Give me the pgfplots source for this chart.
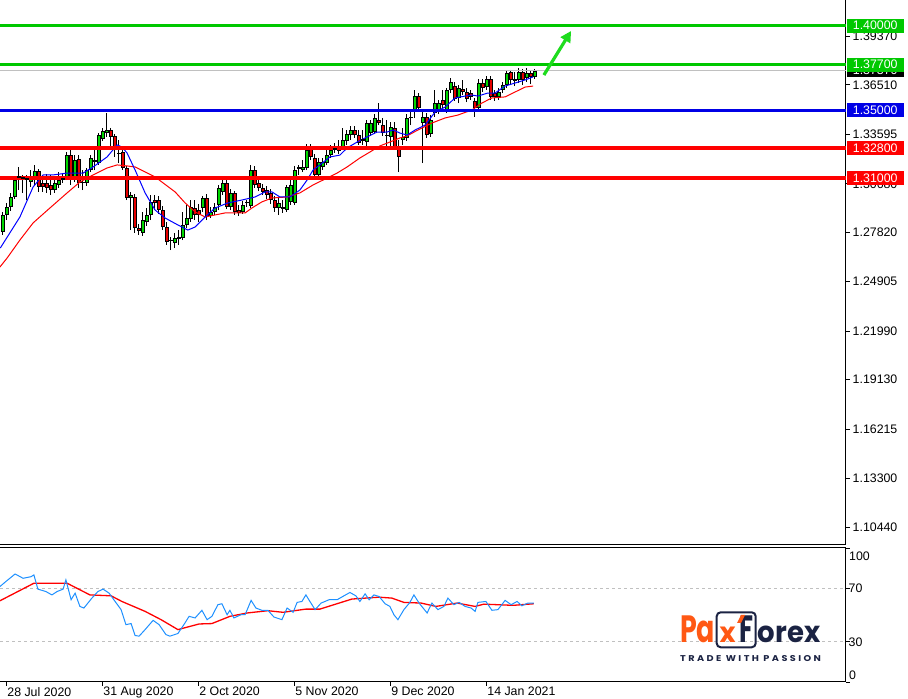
\documentclass[border=0pt]{standalone}
\usepackage{fontspec}
\setmainfont{Liberation Sans}
\newfontfamily\logofont{Poppins}
\newfontfamily\logosmall{Poppins}[LetterSpace=25]
\usepackage{graphicx}
\usepackage{pgfplots}
\pgfplotsset{compat=1.18}
\usepackage{pgfplotstable}
\usetikzlibrary{arrows.meta}

\definecolor{hgreen}{RGB}{0,200,0}
\definecolor{bull}{RGB}{0,215,0}
\definecolor{bear}{RGB}{230,0,0}
\definecolor{hred}{RGB}{255,0,0}
\definecolor{hblue}{RGB}{0,0,230}
\definecolor{mablue}{RGB}{0,0,255}
\definecolor{mared}{RGB}{255,0,0}
\definecolor{rsiblue}{RGB}{30,144,255}
\definecolor{lgray}{RGB}{192,192,192}
\definecolor{arrowgreen}{RGB}{30,220,30}
\definecolor{pxorange}{RGB}{255,88,20}
\definecolor{pxnavy}{RGB}{27,35,67}

\pgfplotstableread{
i o h l c
0 1.2784 1.2902 1.2766 1.2884
1 1.2884 1.2955 1.2854 1.2931
2 1.2931 1.3014 1.2908 1.2990
3 1.2990 1.3114 1.2978 1.3090
7 1.3078 1.3149 1.3049 1.3108
8 1.3108 1.3179 1.3061 1.3143
13 1.3031 1.3102 1.3014 1.3073
14 1.3061 1.3137 1.3043 1.3090
16 1.3102 1.3255 1.3090 1.3237
18 1.3108 1.3237 1.3078 1.3208
21 1.3073 1.3161 1.3055 1.3149
22 1.3149 1.3237 1.3137 1.3220
24 1.3190 1.3367 1.3179 1.3355
25 1.3332 1.3397 1.3320 1.3379
26 1.3367 1.3485 1.3344 1.3385
32 1.2984 1.3020 1.2795 1.3002
35 1.2778 1.2902 1.2760 1.2854
36 1.2843 1.2925 1.2819 1.2884
37 1.2884 1.3002 1.2854 1.2961
43 1.2719 1.2778 1.2689 1.2748
45 1.2748 1.2902 1.2736 1.2825
46 1.2825 1.2943 1.2807 1.2866
47 1.2860 1.2972 1.2843 1.2931
50 1.2925 1.2996 1.2902 1.2984
52 1.2878 1.2931 1.2866 1.2902
53 1.2902 1.2955 1.2884 1.2931
54 1.2943 1.3061 1.2913 1.3043
55 1.3020 1.3090 1.3002 1.3073
57 1.2931 1.3037 1.2913 1.3014
60 1.2902 1.2966 1.2890 1.2943
62 1.2937 1.3179 1.2925 1.3149
69 1.2925 1.2984 1.2884 1.2955
71 1.2913 1.3061 1.2902 1.3049
72 1.2961 1.3090 1.2943 1.3061
73 1.2955 1.3173 1.2943 1.3149
75 1.3149 1.3208 1.3137 1.3167
76 1.3161 1.3302 1.3149 1.3267
79 1.3120 1.3220 1.3108 1.3196
80 1.3167 1.3220 1.3149 1.3196
81 1.3190 1.3267 1.3179 1.3237
82 1.3237 1.3297 1.3220 1.3267
84 1.3261 1.3326 1.3243 1.3291
85 1.3285 1.3397 1.3267 1.3326
86 1.3320 1.3385 1.3297 1.3361
87 1.3355 1.3409 1.3326 1.3385
91 1.3314 1.3444 1.3291 1.3426
92 1.3367 1.3444 1.3350 1.3426
93 1.3373 1.3479 1.3367 1.3456
97 1.3344 1.3432 1.3267 1.3403
100 1.3326 1.3397 1.3297 1.3344
101 1.3338 1.3479 1.3320 1.3456
103 1.3503 1.3621 1.3456 1.3585
105 1.3426 1.3503 1.3190 1.3462
107 1.3361 1.3473 1.3344 1.3444
108 1.3485 1.3621 1.3462 1.3544
109 1.3503 1.3562 1.3479 1.3544
111 1.3503 1.3633 1.3485 1.3621
112 1.3621 1.3692 1.3603 1.3668
114 1.3574 1.3650 1.3544 1.3633
119 1.3515 1.3686 1.3497 1.3662
121 1.3638 1.3703 1.3621 1.3686
124 1.3580 1.3633 1.3562 1.3609
125 1.3621 1.3668 1.3603 1.3650
126 1.3650 1.3739 1.3633 1.3721
129 1.3680 1.3751 1.3662 1.3727
131 1.3692 1.3751 1.3668 1.3721
133 1.3698 1.3745 1.3686 1.3733
}\bulltab

\pgfplotstableread{
i o h l c
9 1.3143 1.3149 1.3020 1.3049
10 1.3073 1.3120 1.3020 1.3049
11 1.3073 1.3126 1.3014 1.3043
12 1.3061 1.3120 1.3002 1.3031
17 1.3237 1.3267 1.3061 1.3102
19 1.3214 1.3237 1.3043 1.3073
27 1.3385 1.3397 1.3279 1.3344
28 1.3350 1.3361 1.3226 1.3285
30 1.3255 1.3267 1.3149 1.3161
31 1.3161 1.3173 1.2972 1.2984
33 1.2990 1.3008 1.2778 1.2807
34 1.2807 1.2831 1.2766 1.2790
38 1.2972 1.3002 1.2913 1.2955
39 1.2972 1.2996 1.2890 1.2913
40 1.2913 1.2937 1.2795 1.2813
41 1.2813 1.2843 1.2707 1.2725
48 1.2925 1.2972 1.2854 1.2884
49 1.2913 1.2949 1.2843 1.2884
51 1.2984 1.3008 1.2854 1.2872
56 1.3073 1.3090 1.2919 1.2931
58 1.3014 1.3025 1.2884 1.2902
59 1.2913 1.2943 1.2878 1.2896
63 1.3149 1.3173 1.3043 1.3061
64 1.3073 1.3108 1.3025 1.3043
65 1.3043 1.3067 1.3002 1.3020
66 1.3031 1.3055 1.2978 1.3002
67 1.3014 1.3037 1.2949 1.2972
68 1.2972 1.2996 1.2902 1.2925
77 1.3279 1.3302 1.3208 1.3226
78 1.3220 1.3243 1.3102 1.3120
88 1.3385 1.3409 1.3338 1.3355
89 1.3355 1.3385 1.3297 1.3308
94 1.3444 1.3544 1.3414 1.3426
95 1.3414 1.3456 1.3350 1.3367
98 1.3397 1.3432 1.3267 1.3285
99 1.3285 1.3326 1.3137 1.3226
104 1.3585 1.3603 1.3491 1.3515
106 1.3462 1.3485 1.3338 1.3355
110 1.3562 1.3621 1.3515 1.3532
113 1.3644 1.3668 1.3556 1.3568
115 1.3627 1.3680 1.3591 1.3609
116 1.3609 1.3633 1.3550 1.3568
117 1.3603 1.3621 1.3562 1.3580
118 1.3556 1.3574 1.3462 1.3515
120 1.3662 1.3686 1.3609 1.3633
122 1.3686 1.3703 1.3562 1.3580
123 1.3603 1.3621 1.3556 1.3580
127 1.3727 1.3739 1.3656 1.3680
130 1.3727 1.3745 1.3650 1.3680
132 1.3721 1.3739 1.3656 1.3698
}\beartab

\pgfplotstableread{
i o h l c
4 1.3108 1.3167 1.3031 1.3108
5 1.3102 1.3120 1.3014 1.3102
6 1.3096 1.3120 1.2972 1.3096
15 1.3096 1.3131 1.3073 1.3096
20 1.3073 1.3149 1.3031 1.3073
23 1.3202 1.3267 1.3149 1.3202
29 1.3249 1.3326 1.3190 1.3249
42 1.2731 1.2754 1.2677 1.2731
44 1.2748 1.2795 1.2707 1.2748
61 1.2955 1.2972 1.2931 1.2955
70 1.2925 1.2972 1.2896 1.2925
74 1.3161 1.3179 1.3120 1.3161
83 1.3273 1.3308 1.3249 1.3273
90 1.3326 1.3385 1.3297 1.3326
96 1.3355 1.3444 1.3279 1.3355
102 1.3456 1.3503 1.3414 1.3456
128 1.3680 1.3727 1.3644 1.3680
}\dojitab

\pgfplotstableread{
x y
-0.6 1.2689
4.3 1.2872
7.6 1.3049
10.1 1.3120
12.6 1.3120
16.1 1.3131
20.1 1.3131
22.6 1.3167
26.1 1.3226
28.6 1.3297
29.8 1.3285
31.1 1.3249
33.1 1.3149
35.6 1.3014
38.1 1.2913
40.6 1.2866
43.8 1.2825
46.3 1.2795
48.1 1.2813
50.6 1.2872
53.1 1.2925
56.3 1.2955
59.8 1.2972
63.1 1.2990
65.6 1.3020
67.3 1.3020
69.3 1.2990
71.8 1.2990
74.3 1.3031
76.1 1.3090
77.6 1.3149
79.3 1.3179
81.8 1.3226
84.3 1.3237
86.1 1.3279
88.6 1.3314
91.1 1.3344
93.6 1.3373
96.1 1.3373
97.6 1.3385
99.3 1.3367
101.1 1.3355
103.1 1.3385
105.6 1.3414
108.1 1.3491
110.6 1.3520
113.1 1.3574
115.6 1.3585
117.3 1.3591
118.8 1.3585
121.3 1.3603
123.1 1.3603
125.6 1.3644
128.1 1.3662
130.6 1.3680
132.6 1.3698
}\mafast

\pgfplotstableread{
x y
-0.7 1.2577
1.1 1.2630
4.3 1.2736
7.6 1.2837
11.8 1.2925
16.1 1.3014
19.3 1.3078
22.6 1.3120
26.1 1.3161
28.6 1.3179
31.1 1.3173
33.1 1.3167
38.1 1.3108
43.1 1.3020
45.6 1.2955
48.1 1.2902
50.6 1.2872
53.1 1.2884
55.6 1.2896
60.6 1.2896
62.3 1.2925
64.8 1.2961
67.3 1.2984
71.1 1.2990
74.3 1.3014
77.6 1.3061
80.1 1.3090
83.6 1.3131
86.1 1.3167
89.3 1.3220
91.8 1.3255
94.3 1.3291
96.8 1.3314
99.3 1.3338
101.1 1.3350
103.8 1.3385
107.3 1.3426
110.6 1.3456
113.8 1.3473
117.3 1.3503
119.8 1.3544
122.3 1.3574
125.6 1.3580
128.1 1.3609
130.6 1.3638
132.6 1.3644
}\maslow

\pgfplotstableread{
x y
-0.7 71.2
0.8 75.0
3.1 80.6
5.1 77.4
7.1 78.6
7.8 79.9
8.8 69.3
10.8 67.5
12.3 65.0
13.6 67.5
15.1 69.3
15.8 76.2
17.1 61.4
18.1 66.3
19.3 56.4
20.3 55.2
22.3 62.6
23.8 67.5
25.1 69.3
26.6 66.3
28.1 60.1
29.6 54.0
30.8 42.8
32.1 43.6
33.1 34.7
34.1 34.2
35.6 39.1
37.6 46.0
39.1 42.8
40.8 35.4
41.8 34.2
43.8 36.2
45.3 42.8
46.6 49.0
48.1 47.8
49.8 53.5
51.1 46.5
52.3 49.0
53.8 57.7
54.8 58.4
56.1 50.2
56.8 53.5
57.8 47.8
59.6 50.2
60.6 50.2
62.1 60.9
63.3 55.2
64.8 53.5
66.3 53.5
67.8 48.5
69.8 46.5
71.1 55.2
72.6 52.0
73.6 59.4
74.8 60.1
75.8 65.0
76.8 60.1
78.1 54.0
79.6 58.9
81.6 61.4
83.6 61.4
85.3 64.3
86.8 66.8
88.3 64.3
89.3 60.1
90.6 65.8
91.6 61.4
92.8 65.0
94.1 63.8
95.6 58.4
96.8 56.4
97.8 50.2
98.8 46.5
100.3 54.0
101.8 59.4
102.8 65.0
104.1 58.9
106.1 51.5
107.3 58.9
108.8 54.0
110.3 56.4
111.3 62.6
112.8 57.7
114.1 59.4
115.6 56.4
117.1 55.2
118.1 52.7
118.8 59.4
120.8 60.1
122.3 53.5
123.8 54.0
125.6 60.9
127.1 57.7
128.6 60.1
129.8 56.9
131.3 58.9
132.8 58.9
}\rsitab

\pgfplotstableread{
x y
-0.7 60.6
7.8 73.7
16.1 73.7
21.8 65.0
27.1 64.3
29.8 60.1
35.6 52.7
39.6 46.5
43.8 39.1
49.1 43.3
52.3 43.6
56.8 49.0
61.1 51.5
66.3 53.2
70.1 52.0
75.8 54.4
79.3 54.4
87.3 61.9
94.1 63.3
97.3 62.6
100.3 59.4
104.6 58.9
108.3 56.4
113.6 58.9
118.1 56.4
120.3 58.1
127.6 57.2
132.8 58.4
}\rsimatab

\tikzset{pbox/.style={anchor=west, inner sep=0pt, minimum width=57bp, minimum height=14bp, text=white, font=\fontsize{12.4}{14}\selectfont, xshift=1bp}}
\pgfplotsset{
  wick/.style={draw=none, mark=none, forget plot,
    error bars/.cd, y dir=plus, y explicit, error mark=none,
    error mark options={draw=none, fill=none, mark size=0pt},
    error bar style={draw=black, line width=1bp}},
  bodyline/.style={draw=none, mark=none, forget plot,
    error bars/.cd, y dir=both, y explicit, error mark=-,
    error mark options={draw=black, line width=1bp, mark size=2bp},
    error bar style={draw=black, line width=4bp}},
  bodyfill/.style={draw=none, mark=none, forget plot,
    error bars/.cd, y dir=plus, y explicit, error mark=none,
    error mark options={draw=none, fill=none, mark size=0pt},
    error bar style={draw=#1, line width=2.1bp, shorten <=0.8bp, shorten >=0.8bp}},
}

\begin{document}
\begin{tikzpicture}[x=1bp,y=1bp]
\path[use as bounding box] (0,0) rectangle (908,699);

\begin{axis}[
  name=main, at={(0bp,154bp)}, anchor=south west, scale only axis,
  width=845.5bp, height=545bp,
  xmin=-0.675, xmax=210.7, ymin=1.09381, ymax=1.41515,
  axis y line*=right, axis x line*=bottom,
  axis line style={black, line width=1bp, -},
  xtick=\empty,
  ytick={1.10440,1.13300,1.16215,1.19130,1.21990,1.24905,1.27820,1.30680,1.33595,1.36510,1.39370},
  yticklabels={1.10440,1.13300,1.16215,1.19130,1.21990,1.24905,1.27820,1.30680,1.33595,1.36510,1.39370},
  tick align=outside, major tick length=4bp,
  tick style={black, line width=0.8bp},
  yticklabel style={anchor=west, inner sep=0pt, xshift=3bp, font=\fontsize{12.4}{14}\selectfont},
  clip=false,
]
% wicks
\addplot[wick] table[x=i, y=l, y error plus expr=\thisrow{h}-\thisrow{l}] {\bulltab};
\addplot[wick] table[x=i, y=l, y error plus expr=\thisrow{h}-\thisrow{l}] {\beartab};
\addplot[wick] table[x=i, y=l, y error plus expr=\thisrow{h}-\thisrow{l}] {\dojitab};
% body outlines
\addplot[bodyline] table[x=i, y=o, y error plus expr=\thisrow{c}-\thisrow{o}, y error minus expr=0] {\bulltab};
\addplot[bodyline] table[x=i, y=c, y error plus expr=\thisrow{o}-\thisrow{c}, y error minus expr=0] {\beartab};
% body fills
\addplot[bodyfill=bull] table[x=i, y=o, y error plus expr=\thisrow{c}-\thisrow{o}] {\bulltab};
\addplot[bodyfill=bear] table[x=i, y=c, y error plus expr=\thisrow{o}-\thisrow{c}] {\beartab};
% dojis
\addplot[only marks, mark=-, mark size=2bp, mark options={draw=black, line width=1.1bp}, forget plot] table[x=i, y=o] {\dojitab};

% moving averages
\addplot[mared, line width=1bp, no marks] table {\maslow};
\addplot[mablue, line width=1bp, no marks] table {\mafast};

% bid line
\addplot[lgray, line width=1bp, no marks] coordinates {(-0.675,1.3737) (210.7,1.3737)};
% levels
\addplot[hred, line width=4bp, no marks] coordinates {(-0.675,1.31) (210.7,1.31)};
\addplot[hred, line width=4bp, no marks] coordinates {(-0.675,1.328) (210.7,1.328)};
\addplot[hblue, line width=3bp, no marks] coordinates {(-0.675,1.35) (210.7,1.35)};
\addplot[hgreen, line width=2.7bp, no marks] coordinates {(-0.675,1.377) (210.7,1.377)};
\addplot[hgreen, line width=2.7bp, no marks] coordinates {(-0.675,1.40) (210.7,1.40)};
% arrow
\addplot[arrowgreen, line width=3.2bp, no marks, -{Triangle[length=11bp,width=11bp]}] coordinates {(135.3,1.3709) (142.1,1.3969)};

\coordinate (b140) at (axis cs:210.7,1.40);
\coordinate (b1377) at (axis cs:210.7,1.377);
\coordinate (bcur) at (axis cs:210.7,1.3737);
\coordinate (b135) at (axis cs:210.7,1.35);
\coordinate (b1328) at (axis cs:210.7,1.328);
\coordinate (b131) at (axis cs:210.7,1.31);
\end{axis}

\begin{axis}[
  name=rsi, at={(0bp,17bp)}, anchor=south west, scale only axis,
  width=845.5bp, height=134bp,
  xmin=-0.675, xmax=210.7, ymin=0, ymax=100,
  axis y line*=right, axis x line*=bottom,
  axis line style={black, line width=1bp, -},
  xtick={1,25,49,73,97,121},
  xticklabels={28 Jul 2020,31 Aug 2020,2 Oct 2020,5 Nov 2020,9 Dec 2020,14 Jan 2021},
  ytick={0,30,70,100}, yticklabels={,30,70,},
  tick align=outside, major tick length=4bp,
  tick style={black, line width=0.8bp},
  xticklabel style={anchor=north west, inner sep=0pt, xshift=0.5bp, yshift=-1bp, font=\fontsize{12.4}{14}\selectfont},
  yticklabel style={anchor=west, inner sep=0pt, xshift=-1bp, font=\fontsize{12.4}{14}\selectfont},
  clip=false,
]
\addplot[lgray, line width=1bp, no marks, dash pattern=on 3bp off 3bp] coordinates {(-0.675,70) (210.7,70)};
\addplot[lgray, line width=1bp, no marks, dash pattern=on 3bp off 3bp] coordinates {(-0.675,30) (210.7,30)};
\addplot[mared, line width=1.3bp, no marks] table {\rsimatab};
\addplot[rsiblue, line width=1bp, no marks] table {\rsitab};
\draw[black, line width=1bp] (rel axis cs:0,1) -- (rel axis cs:1,1);
\end{axis}

% price boxes
\node[pbox, fill=black] at (bcur) {1.37370};
\node[pbox, fill=hgreen] at (b140) {1.40000};
\node[pbox, fill=hgreen] at (b1377) {1.37700};
\node[pbox, fill=hblue] at (b135) {1.35000};
\node[pbox, fill=hred] at (b1328) {1.32800};
\node[pbox, fill=hred] at (b131) {1.31000};

% RSI extreme labels
\node[anchor=west, inner sep=0pt, font=\fontsize{12.4}{14}\selectfont] at (849,143) {100};
\node[anchor=west, inner sep=0pt, font=\fontsize{12.4}{14}\selectfont] at (849,24) {0};

% logo
\node[anchor=south west, inner sep=0pt, text=pxorange] at (680,56.3) {\resizebox{35bp}{26.7bp}{\logofont\bfseries Pa}};
\node[anchor=south west, inner sep=0pt, text=pxorange] at (719.5,56.3) {\resizebox{16bp}{15.5bp}{\logofont\bfseries x}};
\node[anchor=south west, inner sep=0pt, text=pxnavy] at (739.5,56.3) {\resizebox{14bp}{26.7bp}{\logofont\bfseries F}};
\node[anchor=south west, inner sep=0pt, text=pxnavy] at (757.5,56.3) {\resizebox{62.5bp}{16.5bp}{\logofont\bfseries orex}};
\draw[pxnavy, line width=2bp, rounded corners=4bp] (716.7,51.7) rectangle (755.7,86.7);
\fill[pxorange] (737,76) -- (741,76) -- (745,84) -- (741,84) -- cycle;
\node[anchor=south west, inner sep=0pt, text=pxnavy] at (680,37.3) {\resizebox{140.7bp}{6bp}{\logosmall\bfseries TRADE WITH PASSION}};
\end{tikzpicture}
\end{document}
